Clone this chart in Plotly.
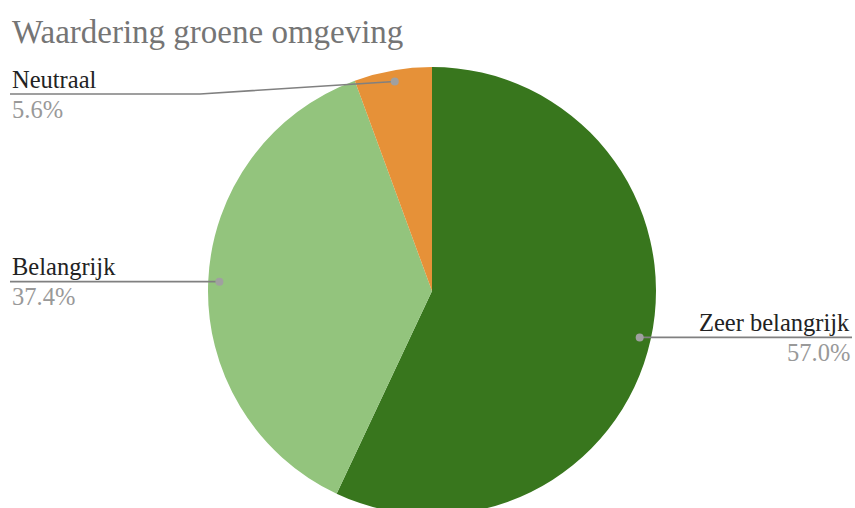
import math
import plotly.graph_objects as go

# Data
categories = ["Zeer belangrijk", "Belangrijk", "Neutraal"]
values = [57.0, 37.4, 5.6]
colors = ["#38761d", "#93c47d", "#e69138"]
title_text = "Waardering groene omgeving"

# Layout constants (viewport pixels)
W, H = 855, 515
CX, CY, R = 432, 291, 224
SERIF = "Liberation Serif, Times New Roman, serif"


def px(x):
    return x / W


def py(y):
    return 1 - y / H


fig = go.Figure(go.Pie(
    labels=categories, values=values, sort=False, direction="clockwise",
    rotation=0, marker=dict(colors=colors, line=dict(width=0)),
    textinfo="none", hoverinfo="label+percent", showlegend=False,
    domain=dict(x=[px(CX - R), px(CX + R)], y=[max(0, py(CY + R)), py(CY - R)]),
))

total = sum(values)
cum = 0.0
shapes = []
annotations = []
for name, v in zip(categories, values):
    mid = (cum + v / 2) / total * 2 * math.pi
    cum += v
    dx = CX + 0.95 * R * math.sin(mid)
    dy = CY - 0.95 * R * math.cos(mid)
    right = math.sin(mid) > 0
    line_y = max(dy, 94)
    if right:
        end_x, elbow_x, anchor = 852, dx, "right"
    else:
        end_x, anchor = 10, "left"
        elbow_x = 200 if line_y != dy else dx
    path = f"M {px(dx)},{py(dy)} L {px(elbow_x)},{py(line_y)} L {px(end_x)},{py(line_y)}"
    shapes.append(dict(type="path", path=path, xref="paper", yref="paper",
                       line=dict(color="#808080", width=1.6)))
    shapes.append(dict(type="circle", xref="paper", yref="paper",
                       x0=px(dx - 4), x1=px(dx + 4), y0=py(dy + 4), y1=py(dy - 4),
                       fillcolor="#a0a0a0", line=dict(width=0)))
    annotations.append(dict(text=name, x=px(end_x), y=py(line_y - 15), xref="paper", yref="paper",
                            xanchor=anchor, yanchor="middle", showarrow=False,
                            font=dict(family=SERIF, size=24.5, color="#222222")))
    annotations.append(dict(text=f"{v / total * 100:.1f}%", x=px(end_x), y=py(line_y + 15),
                            xref="paper", yref="paper", xanchor=anchor, yanchor="middle",
                            showarrow=False, font=dict(family=SERIF, size=24.5, color="#999999")))

annotations.append(dict(text=title_text, x=px(10), y=py(32), xref="paper", yref="paper",
                        xanchor="left", yanchor="middle", showarrow=False,
                        font=dict(family=SERIF, size=33, color="#757575")))

fig.update_layout(width=W, height=H, margin=dict(l=0, r=0, t=0, b=0),
                  paper_bgcolor="white", plot_bgcolor="white",
                  shapes=shapes, annotations=annotations)

fig.write_html(
    "out.html",
    config={"displayModeBar": False},
    post_script="document.body.style.margin='0';document.body.style.overflow='hidden';"
                "document.documentElement.style.overflow='hidden';",
)
